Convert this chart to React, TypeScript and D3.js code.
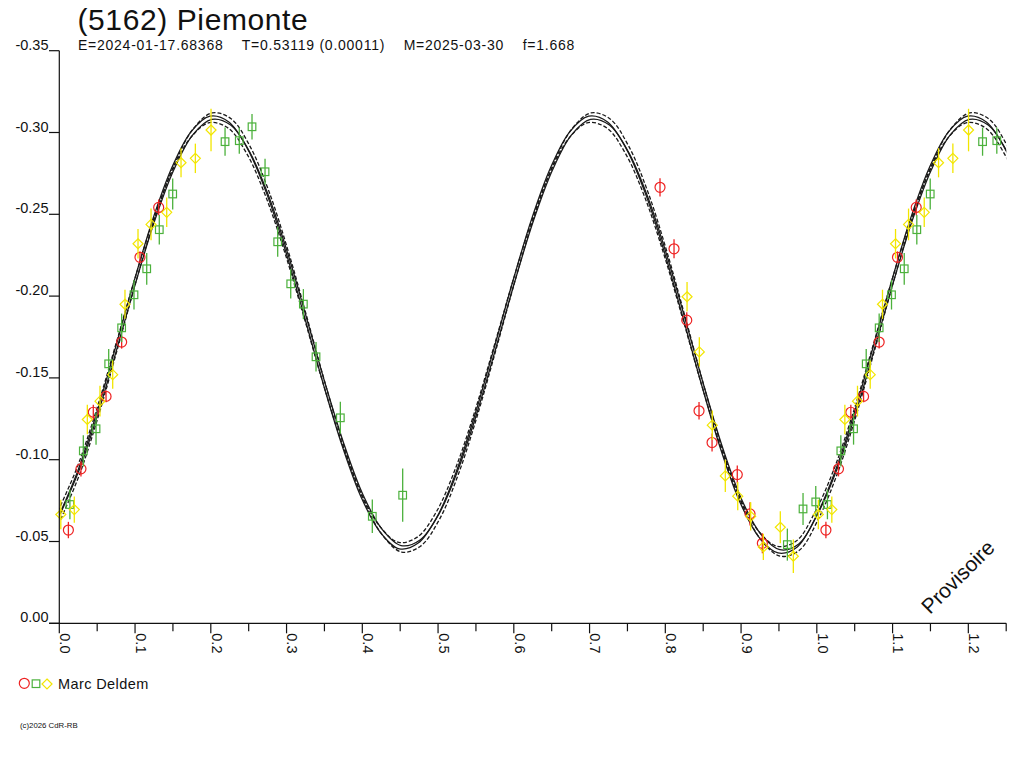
import React from "react";
import * as d3 from "d3";

const FONT = "'Liberation Sans', Arial, Helvetica, sans-serif";

// ---- texts ----
const titleText = "(5162) Piemonte";
const subtitleText = "E=2024-01-17.68368    T=0.53119 (0.00011)    M=2025-03-30    f=1.668";
const observerName = "Marc Deldem";
const copyrightText = "(c)2026 CdR-RB";
const watermarkText = "Provisoire";

// ---- axes ----
const xDomain = [0, 1.25];
const yDomain = [-0.35, 0];
const yTicks = [-0.35, -0.3, -0.25, -0.2, -0.15, -0.1, -0.05, 0.0];
const xMajorTicks = [0.0, 0.1, 0.2, 0.3, 0.4, 0.5, 0.6, 0.7, 0.8, 0.9, 1.0, 1.1, 1.2];
const xMinorTicks = [0.05, 0.15, 0.25, 0.35, 0.45, 0.55, 0.65, 0.75, 0.85, 0.95, 1.05, 1.15, 1.25];

// ---- fitted lightcurve, one full rotation (phase 0..1, step 0.025) ----
const fitPhases = [
  0.0, 0.025, 0.05, 0.075, 0.1, 0.125, 0.15, 0.175, 0.2, 0.225, 0.25, 0.275, 0.3, 0.325, 0.35, 0.375,
  0.4, 0.425, 0.45, 0.475, 0.5, 0.525, 0.55, 0.575, 0.6, 0.625, 0.65, 0.675, 0.7, 0.725, 0.75, 0.775,
  0.8, 0.825, 0.85, 0.875, 0.9, 0.925, 0.95, 0.975, 1.0,
];
const fitMags = [
  -0.066, -0.093, -0.128, -0.168, -0.209, -0.247, -0.278, -0.2995, -0.309, -0.3055, -0.289, -0.262,
  -0.227, -0.187, -0.146, -0.1085, -0.0775, -0.0565, -0.0465, -0.05, -0.066, -0.093, -0.128, -0.168,
  -0.209, -0.247, -0.278, -0.2995, -0.309, -0.3055, -0.289, -0.262, -0.2265, -0.186, -0.1445, -0.106,
  -0.0745, -0.0535, -0.044, -0.0475, -0.066,
];
const fitMean = -0.177;
const fitBandFactors = [0.9775, 0.9925, 1.0075, 1.0225];
const fitBandShifts = [-0.0018, 0.0012, -0.0012, 0.0018];
const fitBandDashed = [true, false, false, true];

// ---- observations (phase, reduced magnitude, error) ----
const redPhase = [0.012, 0.0286, 0.0449, 0.0617, 0.0823, 0.1065, 0.1312, 0.793, 0.8115, 0.8283, 0.8445, 0.8617, 0.895, 0.9118, 0.9281];
const redMag = [-0.057, -0.0944, -0.129, -0.1387, -0.1719, -0.2237, -0.2542, -0.2665, -0.2289, -0.1853, -0.1299, -0.1105, -0.0909, -0.0669, -0.0489];
const redErr = [0.005, 0.0046, 0.0046, 0.0036, 0.004, 0.0036, 0.0048, 0.0056, 0.0058, 0.0049, 0.0053, 0.0055, 0.0055, 0.0071, 0.0061];

const greenPhase = [0.014, 0.0317, 0.0485, 0.0652, 0.0823, 0.0986, 0.1154, 0.132, 0.1497, 0.2188, 0.2376, 0.2544, 0.2716, 0.2883, 0.3055, 0.3222, 0.3389, 0.371, 0.4132, 0.4533, 0.9611, 0.9818, 0.9986];
const greenMag = [-0.0726, -0.1054, -0.1189, -0.1586, -0.1806, -0.2008, -0.2167, -0.2406, -0.2624, -0.2944, -0.295, -0.3035, -0.276, -0.2332, -0.2075, -0.1951, -0.1629, -0.1256, -0.0654, -0.0783, -0.0481, -0.0699, -0.0742];
const greenErr = [0.009, 0.0095, 0.0097, 0.009, 0.0087, 0.009, 0.0097, 0.009, 0.0095, 0.0086, 0.008, 0.0078, 0.008, 0.0092, 0.0089, 0.0092, 0.009, 0.0098, 0.0102, 0.0163, 0.0098, 0.0098, 0.0098];

const yellowPhase = [0.002, 0.0198, 0.037, 0.0537, 0.0705, 0.0867, 0.1039, 0.1211, 0.1418, 0.1607, 0.1796, 0.2003, 0.8287, 0.8449, 0.862, 0.8792, 0.8956, 0.9127, 0.9294, 0.9518, 0.969];
const yellowMag = [-0.0665, -0.0695, -0.1246, -0.1358, -0.152, -0.195, -0.232, -0.2438, -0.2512, -0.2815, -0.2842, -0.3015, -0.1996, -0.1659, -0.1211, -0.0901, -0.0777, -0.0654, -0.0467, -0.0587, -0.041];
const yellowErr = [0.009, 0.008, 0.009, 0.0094, 0.0087, 0.0089, 0.009, 0.0097, 0.009, 0.0089, 0.009, 0.013, 0.009, 0.009, 0.009, 0.0098, 0.0086, 0.0086, 0.008, 0.0098, 0.0102];

const RED = "#ee2222";
const GREEN = "#4cb13c";
const YELLOW = "#f2e600";
const INK = "#1a1a1a";

type Shape = "circle" | "square" | "diamond";

const series: { shape: Shape; color: string; phase: number[]; mag: number[]; err: number[] }[] = [
  { shape: "circle", color: RED, phase: redPhase, mag: redMag, err: redErr },
  { shape: "square", color: GREEN, phase: greenPhase, mag: greenMag, err: greenErr },
  { shape: "diamond", color: YELLOW, phase: yellowPhase, mag: yellowMag, err: yellowErr },
];

function Marker({ shape, cx, cy, color }: { shape: Shape; cx: number; cy: number; color: string }) {
  if (shape === "circle") return <circle cx={cx} cy={cy} r={5} fill="none" stroke={color} strokeWidth={1.2} />;
  if (shape === "square")
    return <rect x={cx - 3.8} y={cy - 3.8} width={7.6} height={7.6} fill="none" stroke={color} strokeWidth={1.2} />;
  return (
    <path
      d={`M${cx},${cy - 5}L${cx + 5},${cy}L${cx},${cy + 5}L${cx - 5},${cy}Z`}
      fill="none"
      stroke={color}
      strokeWidth={1.2}
    />
  );
}

export default function App() {
  const x = d3.scaleLinear().domain(xDomain).range([59.3, 1006.2]);
  const y = d3.scaleLinear().domain(yDomain).range([50.7, 623.3]);

  // full curve over 0..1.25 : one rotation plus its repeat
  const curvePts: [number, number][] = fitPhases.map((p, i) => [p, fitMags[i]] as [number, number]);
  fitPhases.forEach((p, i) => {
    if (p > 0 && p + 1 <= xDomain[1] + 0.03) curvePts.push([p + 1, fitMags[i]]);
  });
  const line = d3
    .line<[number, number]>()
    .x((d) => x(d[0]))
    .y((d) => y(d[1]))
    .curve(d3.curveCatmullRom.alpha(0.5));

  const bands = fitBandFactors.map((f, k) =>
    line(curvePts.map(([p, m]) => [p + fitBandShifts[k], fitMean + (m - fitMean) * f] as [number, number]))
  );

  const pts: { shape: Shape; color: string; p: number; m: number; e: number }[] = [];
  series.forEach((s) => {
    s.phase.forEach((p, i) => {
      pts.push({ shape: s.shape, color: s.color, p, m: s.mag[i], e: s.err[i] });
      if (p + 1 <= xDomain[1]) pts.push({ shape: s.shape, color: s.color, p: p + 1, m: s.mag[i], e: s.err[i] });
    });
  });

  const x0 = x(0);
  const yBase = y(0);

  return (
    <svg
      width={1024}
      height={768}
      style={{ position: "absolute", left: 0, top: 0, background: "#fff" }}
      fontFamily={FONT}
    >
      <rect x={0} y={0} width={1024} height={768} fill="#fff" />
      <defs>
        <clipPath id="plotclip">
          <rect x={x(0)} y={0} width={x(1.25) - x(0)} height={yBase} />
        </clipPath>
      </defs>

      {/* title */}
      <text x={77.5} y={30} fontSize={30} letterSpacing={0.6} fill="#111">
        {titleText}
      </text>
      <text x={78} y={50} fontSize={14} letterSpacing={0.75} fill="#111" style={{ whiteSpace: "pre" }}>
        {subtitleText}
      </text>

      {/* fitted curve */}
      <g clipPath="url(#plotclip)">
        {bands.map((d, k) => (
          <path
            key={k}
            d={d || ""}
            fill="none"
            stroke={INK}
            strokeWidth={1.3}
            strokeDasharray={fitBandDashed[k] ? "4 2" : undefined}
          />
        ))}
      </g>

      {/* observations */}
      <g>
        {pts.map((d, i) => (
          <g key={i}>
            <line
              x1={x(d.p)}
              x2={x(d.p)}
              y1={y(d.m - d.e)}
              y2={y(d.m + d.e)}
              stroke={d.color}
              strokeWidth={1.3}
            />
            <Marker shape={d.shape} cx={x(d.p)} cy={y(d.m)} color={d.color} />
          </g>
        ))}
      </g>

      {/* y axis */}
      <line x1={x0} x2={x0} y1={y(-0.35)} y2={yBase} stroke="#111" strokeWidth={1.2} />
      {yTicks.map((t) => (
        <g key={t}>
          <line x1={49} x2={x0} y1={y(t)} y2={y(t)} stroke="#111" strokeWidth={1.2} />
          <text x={48.5} y={y(t) - 1} textAnchor="end" fontSize={14.5} fill="#111">
            {d3.format(".2f")(t).replace("−", "-")}
          </text>
        </g>
      ))}

      {/* x axis */}
      <line x1={49} x2={x(1.25)} y1={yBase} y2={yBase} stroke="#111" strokeWidth={1.2} />
      {xMajorTicks.map((t) => (
        <g key={t}>
          <line x1={x(t)} x2={x(t)} y1={yBase} y2={yBase + 10} stroke="#111" strokeWidth={1.2} />
          <text
            transform={`translate(${x(t) + 0.8},${yBase + 10}) rotate(90)`}
            fontSize={14.5}
            fill="#111"
          >
            {d3.format(".1f")(t)}
          </text>
        </g>
      ))}
      {xMinorTicks.map((t) => (
        <line key={t} x1={x(t)} x2={x(t)} y1={yBase} y2={yBase + 8} stroke="#111" strokeWidth={1.2} />
      ))}

      {/* watermark */}
      <text transform="translate(930,615) rotate(-45)" fontSize={21} fill="#111">
        {watermarkText}
      </text>

      {/* legend */}
      <Marker shape="circle" cx={24.3} cy={683.3} color={RED} />
      <Marker shape="square" cx={36} cy={683.7} color={GREEN} />
      <Marker shape="diamond" cx={47} cy={684} color={YELLOW} />
      <text x={58} y={688.5} fontSize={14.5} letterSpacing={0.4} fill="#111">
        {observerName}
      </text>

      {/* copyright */}
      <text x={20} y={728} fontSize={7.8} fill="#111">
        {copyrightText}
      </text>
    </svg>
  );
}
